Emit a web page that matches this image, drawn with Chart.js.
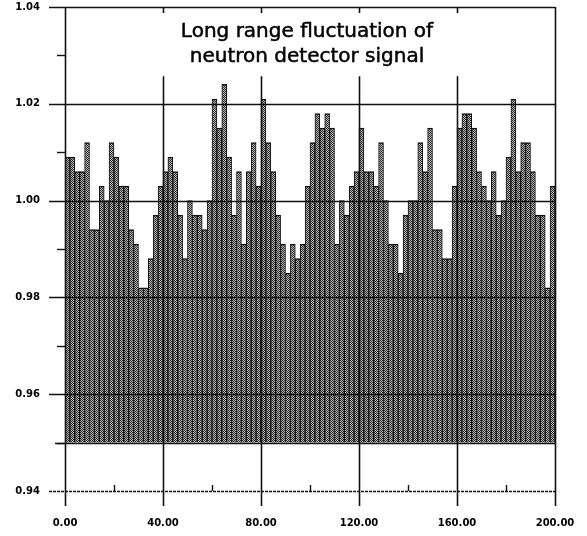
<!DOCTYPE html>
<html>
<head>
<meta charset="utf-8">
<script src="https://cdn.jsdelivr.net/npm/chart.js@4"></script>
<style>
  html, body { margin: 0; padding: 0; background: #fff; }
  canvas { display: block; }
</style>
</head>
<body>
<canvas id="signalChart" width="587" height="536"></canvas>
<script>
// long range fluctuation, one bar per 2 time units
var signal = [
    1.009, 1.009, 1.006, 1.006, 1.012, 0.994, 0.994, 1.003, 1.000, 1.012,
    1.009, 1.003, 1.003, 0.994, 0.991, 0.982, 0.982, 0.988, 0.997, 1.003,
    1.006, 1.009, 1.006, 0.997, 0.988, 1.000, 0.997, 0.997, 0.994, 1.000,
    1.021, 1.015, 1.024, 1.009, 0.997, 1.006, 0.991, 1.006, 1.012, 1.003,
    1.021, 1.012, 1.006, 0.997, 0.991, 0.985, 0.991, 0.988, 0.991, 1.003,
    1.012, 1.018, 1.015, 1.018, 1.015, 0.991, 1.000, 0.997, 1.003, 1.006,
    1.015, 1.006, 1.006, 1.003, 1.012, 1.000, 0.991, 0.991, 0.985, 0.997,
    1.000, 1.000, 1.012, 1.006, 1.015, 0.994, 0.994, 0.988, 0.988, 1.003,
    1.015, 1.018, 1.018, 1.015, 1.006, 1.003, 1.000, 1.006, 0.997, 1.000,
    1.009, 1.021, 1.006, 1.012, 1.012, 1.006, 0.997, 0.997, 0.982, 1.003
];
var binWidth = 2;
var baseLevel = 0.95;
var xTicks = [0, 40, 80, 120, 160, 200];
var xMinor = [20, 60, 100, 140, 180];
var yTicks = [0.94, 0.96, 0.98, 1.00, 1.02, 1.04];
var yMinor = [0.95, 0.97, 0.99, 1.01, 1.03];
var titleLines = ['Long range fluctuation of', 'neutron detector signal'];

var points = signal.map(function (v, i) {
    return { x: binWidth * i + binWidth / 2, y: v };
});

// pattern for the dotted bar fill
var pat = document.createElement('canvas');
pat.width = 2; pat.height = 2;
var pctx = pat.getContext('2d');
pctx.fillStyle = '#b5b5b5';
pctx.fillRect(0, 0, 2, 2);
pctx.fillStyle = '#2e2e2e';
pctx.fillRect(0, 0, 1, 1);
pctx.fillRect(1, 1, 1, 1);

function line(ctx, x1, y1, x2, y2) {
    ctx.beginPath();
    ctx.moveTo(x1, y1);
    ctx.lineTo(x2, y2);
    ctx.stroke();
}

var frame = {
    id: 'frame',
    afterDatasetsDraw: function (chart) {
        var ctx = chart.ctx, a = chart.chartArea;
        var x = chart.scales.x, y = chart.scales.y;
        ctx.save();
        ctx.strokeStyle = '#111';

        // horizontal grid + long ticks
        ctx.lineWidth = 1.6;
        yTicks.forEach(function (v) {
            var py = Math.round(y.getPixelForValue(v)) + 0.5;
            if (v === 0.94) ctx.setLineDash([3, 1]); else ctx.setLineDash([]);
            line(ctx, a.left - 16, py, a.right, py);
        });
        ctx.setLineDash([]);
        // short ticks
        ctx.lineWidth = 1.4;
        yMinor.forEach(function (v) {
            var py = Math.round(y.getPixelForValue(v)) + 0.5;
            line(ctx, a.left - 8, py, a.left, py);
        });
        // bar baseline
        var pb = Math.round(y.getPixelForValue(baseLevel)) + 0.5;
        line(ctx, a.left - 10, pb, x.getPixelForValue(200), pb);

        // vertical lines
        var spikeTop = y.getPixelForValue(1.0257);
        xTicks.forEach(function (v) {
            var px = Math.round(x.getPixelForValue(v)) + 0.5;
            var top = (v === 0 || v === 200) ? a.top : spikeTop;
            ctx.lineWidth = 1.6;
            line(ctx, px, top, px, a.bottom + 15);
            if (v !== 0 && v !== 200) line(ctx, px, a.top, px, a.top + 6);
        });
        ctx.lineWidth = 1.4;
        xMinor.forEach(function (v) {
            var px = Math.round(x.getPixelForValue(v)) + 0.5;
            line(ctx, px, a.bottom - 6, px, a.bottom);
        });

        // title inside the plot
        ctx.fillStyle = '#000';
        ctx.strokeStyle = '#000';
        ctx.lineWidth = 0.5;
        ctx.font = '20px "DejaVu Sans"';
        ctx.textAlign = 'center';
        ctx.textBaseline = 'alphabetic';
        ctx.fillText(titleLines[0], 307, 37);
        ctx.strokeText(titleLines[0], 307, 37);
        ctx.fillText(titleLines[1], 307, 62);
        ctx.strokeText(titleLines[1], 307, 62);
        ctx.restore();
    }
};

var ctx = document.getElementById('signalChart').getContext('2d');
var chart = new Chart(ctx, {
    type: 'bar',
    data: {
        datasets: [{
            data: points,
            base: baseLevel,
            backgroundColor: ctx.createPattern(pat, 'repeat'),
            borderColor: '#111',
            borderWidth: { left: 1, right: 1, top: 1.5, bottom: 0 },
            borderSkipped: false,
            categoryPercentage: 1,
            barPercentage: 1,
            grouped: false
        }]
    },
    plugins: [frame],
    options: {
        responsive: false,
        animation: false,
        layout: { padding: { top: 7, right: 32, left: 0, bottom: 0 } },
        plugins: {
            legend: { display: false },
            tooltip: { enabled: false }
        },
        scales: {
            x: {
                type: 'linear',
                min: 0,
                max: 200,
                offset: false,
                afterFit: function (s) {
                    s.height = 45;
                    s.paddingLeft = 0;
                    s.paddingRight = 0;
                },
                afterBuildTicks: function (s) {
                    s.ticks = xTicks.map(function (v) { return { value: v }; });
                },
                grid: { display: false, drawTicks: false },
                border: { display: false },
                ticks: {
                    padding: 26,
                    color: '#000',
                    font: { family: 'DejaVu Sans', size: 10, weight: 'bold' },
                    maxRotation: 0,
                    callback: function (v) { return v.toFixed(2); }
                }
            },
            y: {
                min: 0.94,
                max: 1.04,
                afterFit: function (s) {
                    s.width = 65;
                    s.paddingTop = 0;
                    s.paddingBottom = 0;
                },
                afterBuildTicks: function (s) {
                    s.ticks = yTicks.map(function (v) { return { value: v }; });
                },
                grid: { display: false, drawTicks: false },
                border: { display: false },
                ticks: {
                    padding: 25,
                    color: '#000',
                    font: { family: 'DejaVu Sans', size: 10, weight: 'bold' },
                    callback: function (v) { return v.toFixed(2); }
                }
            }
        }
    }
});
</script>
</body>
</html>
